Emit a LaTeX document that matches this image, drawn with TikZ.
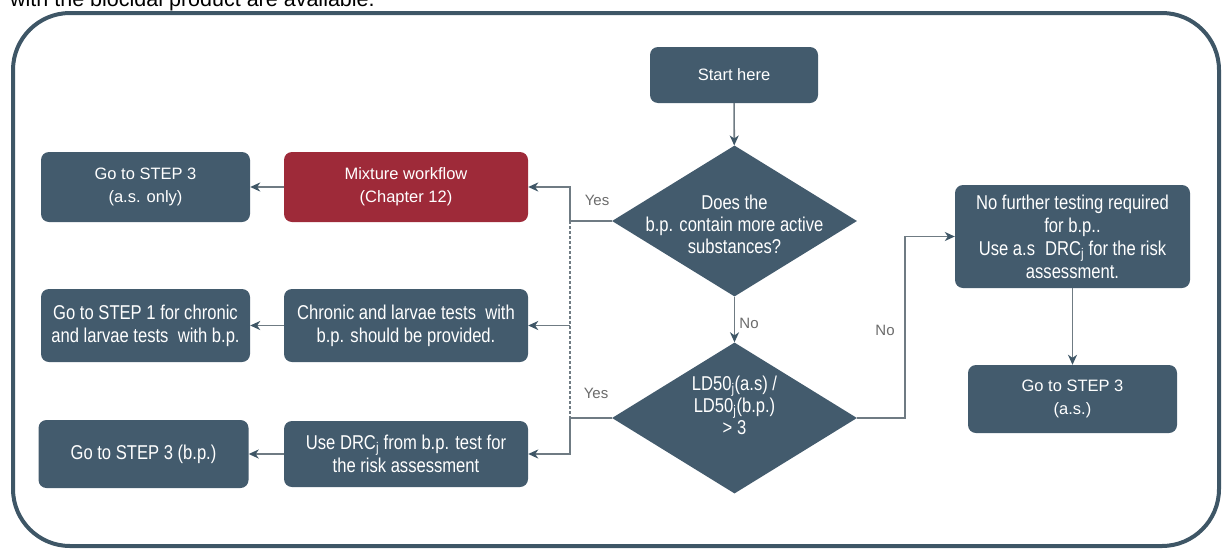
\documentclass[tikz,border=0pt]{standalone}
\usepackage{fontspec}
\setmainfont{Liberation Sans}
\newfontfamily\narrowsf{Liberation Sans}[FakeStretch=0.83]
\usetikzlibrary{
  positioning, arrows.meta, shapes.geometric, calc,
}
\definecolor{cBox}   {HTML}{435B6D}
\definecolor{cMix}   {HTML}{9E2A39}
\definecolor{cFrame} {HTML}{3E5666}
\definecolor{cLine}  {HTML}{6F7B83}
\definecolor{cLabel} {HTML}{6B6B6B}

\begin{document}
\begin{tikzpicture}[x=1pt, y=-1pt,
    box/.style={fill=cBox, rounded corners=8pt, text=white, align=center,
                inner sep=2pt, font=\fontsize{16.5}{23}\selectfont},
    nbox/.style={box, font=\narrowsf\fontsize{20}{23}\selectfont},
    decision/.style={diamond, fill=cBox, inner sep=0pt,
                     minimum width=245pt, minimum height=151pt},
    dtext/.style={text=white, align=center, inner sep=0pt,
                  font=\narrowsf\fontsize{20}{22}\selectfont},
    conn/.style={draw=cLine, line width=1.6pt,
                 -{Stealth[length=10pt, width=9pt, inset=3pt, color=cFrame]}},
    link/.style={draw=cLine, line width=1.6pt},
    ans/.style={text=cLabel, font=\fontsize{15}{18}\selectfont},
  ]
  \useasboundingbox (0,0) rectangle (1222,549);

  % page text above the figure, cut by the crop
  \node[anchor=base west, inner sep=0pt, font=\fontsize{21.5}{24}\selectfont]
    (pagetext) at (10,6) {with the biocidal product are available.};

  % outer frame
  \draw[cFrame, line width=4pt, rounded corners=57pt] (13,13) rectangle (1219,546);

  % decision chain
  \node[box, minimum width=168pt, minimum height=56pt] (start) at (734,75) {Start here};
  \node[decision] (dec1) at (734.5,221) {};
  \node[dtext] (dec1txt) at ([yshift=-3pt]dec1.center)
       {Does the\\b.p. contain more active\\substances?};
  \node[decision] (dec2) at (734.5,418) {};
  \node[dtext] (dec2txt) at ([yshift=13pt]dec2.center)
       {LD50\textsubscript{j}(a.s) /\\LD50\textsubscript{j}(b.p.)\\> 3};

  % middle column
  \node[box, fill=cMix, minimum width=244pt, minimum height=70pt] (mix) at (406,187)
       {Mixture workflow\\(Chapter 12)};
  \node[nbox, minimum width=244pt, minimum height=73pt] (chron) at (406,325.5)
       {Chronic and larvae tests\ \ with\\b.p. should be provided.};
  \node[nbox, minimum width=244pt, minimum height=66pt] (drc) at (406,454)
       {Use DRC\textsubscript{j} from b.p. test for\\the risk assessment};

  % left column
  \node[box, minimum width=209pt, minimum height=70pt] (gs3a) at (145.5,187)
       {Go to STEP 3\\(a.s. only)};
  \node[nbox, minimum width=209pt, minimum height=73pt] (gs1) at (145.5,325.5)
       {Go to STEP 1 for chronic\\and larvae tests\ \ with b.p.};
  \node[nbox, minimum width=210pt, minimum height=68pt] (gs3bp) at (143.5,454)
       {Go to STEP 3 (b.p.)};

  % right column
  \node[nbox, minimum width=235pt, minimum height=103pt] (nofur) at (1072.5,236.5)
       {No further testing required\\for b.p..\\Use a.s\enspace DRC\textsubscript{j} for the risk\\assessment.};
  \node[box, minimum width=209pt, minimum height=68pt] (gs3as) at (1072.5,399)
       {Go to STEP 3\\(a.s.)};

  % junctions on the yes side
  \coordinate (jtop) at ($(dec1.west)+(-42,0)$);
  \coordinate (jbot) at (jtop |- dec2.west);
  \coordinate (jmid) at (jtop |- chron.east);

  % connectors
  \draw[conn] (start) -- (dec1);
  \draw[conn] (dec1) -- (dec2);
  \draw[conn] (dec1.west) -- (jtop) |- (mix.east);
  \draw[link, dash pattern=on 3pt off 2pt, line width=1.4pt] (jtop) -- (jbot);
  \draw[conn] (jmid) -- (chron.east);
  \draw[conn] (dec2.west) -- (jbot) |- (drc.east);
  \draw[conn] (mix) -- (gs3a);
  \draw[conn] (chron) -- (gs1);
  \draw[conn] (drc) -- (gs3bp);
  \draw[conn] (dec2.east) -- ++(48,0) |- (nofur.west);
  \draw[conn] (nofur) -- (gs3as);

  % answers
  \node[ans] (yes1) at (597,200) {Yes};
  \node[ans] (yes2) at (596,393) {Yes};
  \node[ans] (no1) at (749,323) {No};
  \node[ans] (no2) at (885,330) {No};
\end{tikzpicture}
\end{document}
